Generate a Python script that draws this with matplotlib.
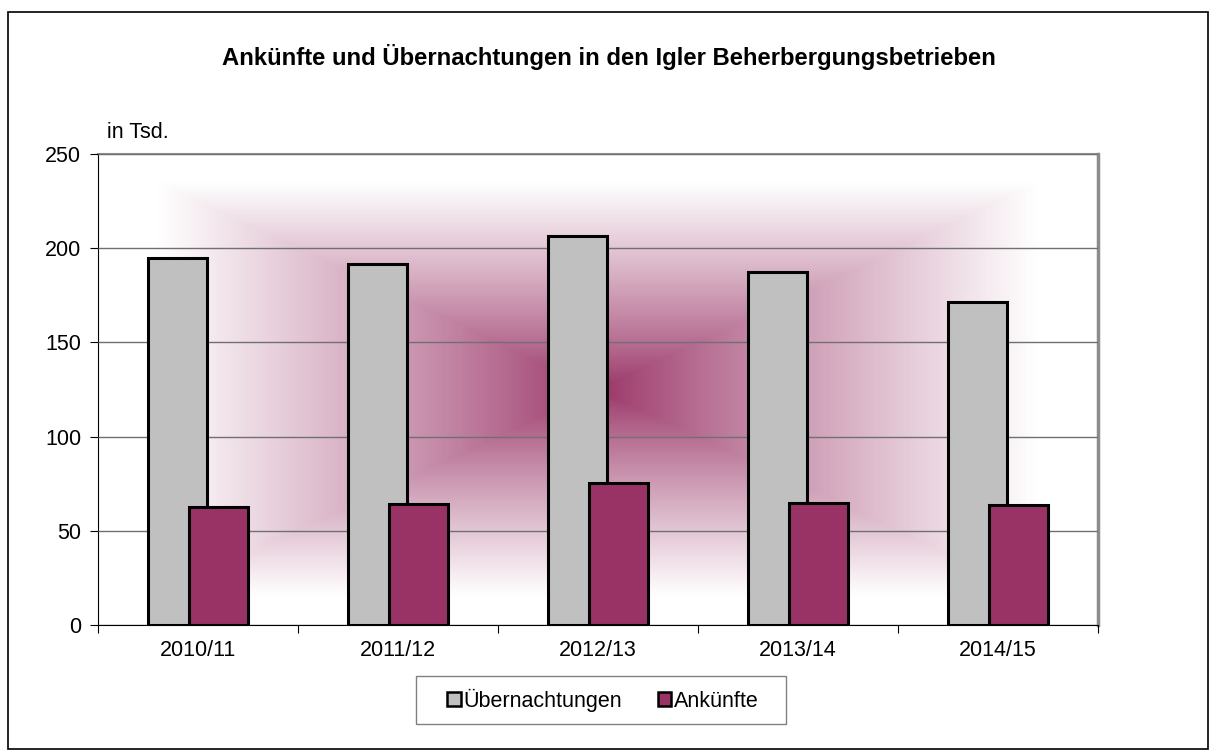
import numpy as np
import matplotlib.pyplot as plt
from matplotlib.colors import to_rgb
from matplotlib.patches import Rectangle

plt.rcParams['font.family'] = ['Liberation Sans', 'DejaVu Sans']

seasons = ["2010/11", "2011/12", "2012/13", "2013/14", "2014/15"]
uebernachtungen = [194.8, 191.6, 206.5, 187.2, 171.5]
ankuenfte = [62.5, 64.2, 75.4, 64.8, 63.6]
yticks = [0, 50, 100, 150, 200, 250]

grey = "#C0C0C0"
purple = "#993366"

fig = plt.figure(figsize=(12.18, 7.55), dpi=100)
ax = fig.add_axes([98 / 1218, 130 / 755, 1000 / 1218, 471 / 755])

# Hintergrund: rechteckiger Verlauf von der Mitte nach außen
nx, ny = 600, 300
u = np.linspace(-1, 1, nx)
v = np.linspace(-1, 1, ny)
U, V = np.meshgrid(u, v)
t = np.maximum(np.abs(U), np.abs(V))
t = np.clip(t / 0.88, 0, 1) ** 0.85
c0 = np.array(to_rgb(purple))
img = c0 * (1 - t[..., None]) + np.ones(3) * t[..., None]
ax.imshow(img, extent=(-0.5, 4.5, 0, 250), aspect="auto", zorder=0,
          interpolation="bilinear")

x = np.arange(len(seasons))
w = 0.295
off = 0.1025
ax.bar(x - off, uebernachtungen, w, color=grey, edgecolor="black",
       linewidth=2.2, zorder=3, label="Übernachtungen")
ax.bar(x + off, ankuenfte, w, color=purple, edgecolor="black",
       linewidth=2.2, zorder=4, label="Ankünfte")

ax.set_xlim(-0.5, 4.5)
ax.set_ylim(0, 250)
ax.set_yticks(yticks)
ax.yaxis.grid(True, color="#707070", linewidth=1)
ax.set_axisbelow(False)
for gl in ax.get_ygridlines():
    gl.set_zorder(1)

ax.set_xticks(np.arange(-0.5, 5, 1))
ax.set_xticklabels([])
ax.set_xticks(x, minor=True)
ax.set_xticklabels(seasons, minor=True)
ax.tick_params(axis="x", which="minor", length=0, pad=11, labelsize=15.5)
ax.tick_params(axis="x", which="major", length=6, direction="out", color="black")
ax.tick_params(axis="y", length=6, direction="out", labelsize=15.5, pad=6)

ax.spines["left"].set_color("black")
ax.spines["bottom"].set_color("black")
ax.spines["top"].set_color("#8C8C8C")
ax.spines["right"].set_color("#8C8C8C")
ax.spines["top"].set_linewidth(1.5)
ax.spines["right"].set_linewidth(2.5)

fig.text(609 / 1218, 1 - 57 / 755,
         "Ankünfte und Übernachtungen in den Igler Beherbergungsbetrieben",
         ha="center", va="center", fontsize=17.2, fontweight="bold")
fig.text(107 / 1218, 1 - 133 / 755, "in Tsd.", ha="left", va="center",
         fontsize=15.5)

# Legende ohne eigenen Rahmen, Rahmen separat
leg = fig.legend(loc="center", bbox_to_anchor=(603 / 1218, 1 - 700 / 755),
                 ncol=2, fontsize=15.5, frameon=False,
                 handlelength=0.62, handleheight=0.62, handletextpad=0.12,
                 columnspacing=1.67, borderpad=0, borderaxespad=0)
for p in leg.get_patches():
    p.set_linewidth(1.8)
fig.patches.append(Rectangle((416 / 1218, 1 - 724 / 755), 370 / 1218, 48 / 755,
                             transform=fig.transFigure, fill=False,
                             edgecolor="#808080", linewidth=1))

fig.patches.append(Rectangle((8 / 1218, 6 / 755), 1200 / 1218, 737 / 755,
                             transform=fig.transFigure, fill=False,
                             edgecolor="black", linewidth=1.2))

fig.savefig("out.png", dpi=100)
